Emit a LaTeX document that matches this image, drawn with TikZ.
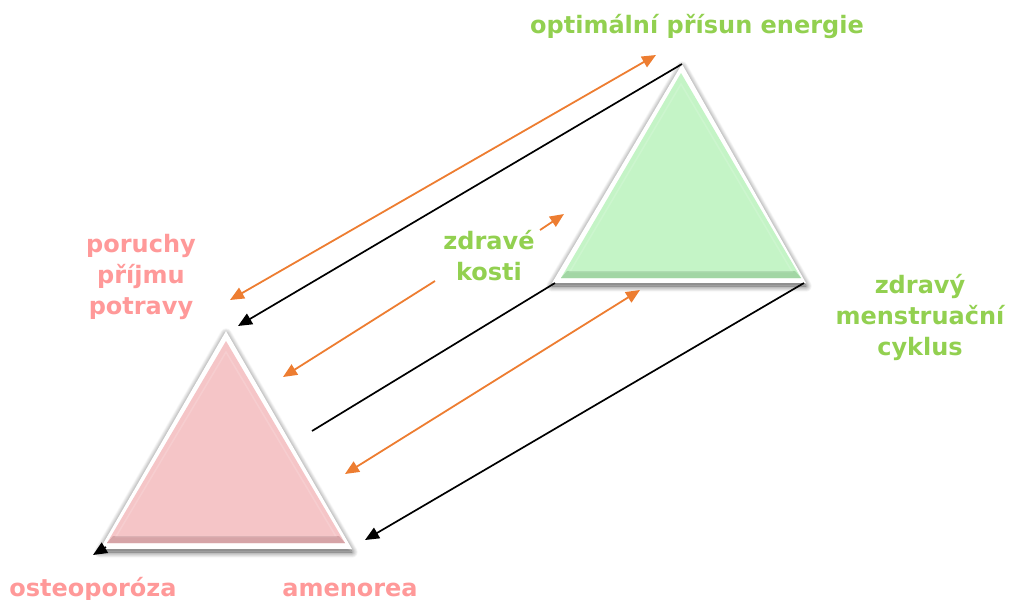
\documentclass[tikz,border=0pt]{standalone}
\usepackage{fontspec}
\setmainfont{DejaVu Sans}
\usetikzlibrary{arrows.meta,shadows.blur}
\definecolor{lgreen}{HTML}{92D050}
\definecolor{lpink}{HTML}{FF9999}
\definecolor{arr}{HTML}{ED7D31}
\definecolor{gfill}{HTML}{C4F4C6}
\definecolor{gdark}{HTML}{A2D6A4}
\definecolor{pfill}{HTML}{F5C5C7}
\definecolor{pdark}{HTML}{D6A4A7}
\begin{document}
\begin{tikzpicture}[x=1pt,y=-1pt,
  lbl/.style={font=\bfseries\fontsize{24}{31}\selectfont,align=center,inner sep=0pt,anchor=base},
  orgline/.style={draw=arr,line width=1.8pt},
  blkline/.style={draw=black,line width=1.7pt},
  tip/.style={-{Triangle[length=14pt,width=12pt]}},
  dtip/.style={{Triangle[length=14pt,width=12pt]}-{Triangle[length=14pt,width=12pt]}},
  outer/.style={fill=white,blur shadow={shadow xshift=0pt,shadow yshift=-3pt,shadow blur radius=6pt,shadow blur steps=12,shadow opacity=70}}
]
\useasboundingbox (0,0) rectangle (1010,600);
% coordinates
\coordinate (gA) at (682,64);
\coordinate (gL) at (555,283);
\coordinate (gR) at (804,283);
\coordinate (pA) at (238,326);
\coordinate (pR) at (365,540);
\coordinate (osTip) at (93,555);
\coordinate (dStub) at (106,547);
\coordinate (dEnd) at (312,431);
\coordinate (o1s) at (230,300);
\coordinate (o1e) at (656,55);
\coordinate (o2a) at (435,281);
\coordinate (o2s) at (283,377);
\coordinate (o2b) at (540,230);
\coordinate (o2e) at (564,214);
\coordinate (o3s) at (345,474);
\coordinate (o3e) at (640,290);
% green triangle
\path[outer] (682,64) -- (552,283) -- (806,283) -- cycle;
\fill[gfill] (681,73) -- (561,278) -- (801,278) -- cycle;
\fill[gdark] (561,278) -- (801,278) -- (795,271) -- (567,271) -- cycle;
\draw[white,opacity=0.15,line width=1.5pt] (681,84) -- (570,271.5) -- (792,271.5) -- cycle;
% pink triangle
\path[outer] (226,331) -- (100,549) -- (352,549) -- cycle;
\fill[pfill] (226,341) -- (107,543) -- (345,543) -- cycle;
\fill[pdark] (107,543) -- (345,543) -- (339,536) -- (113,536) -- cycle;
\draw[white,opacity=0.15,line width=1.5pt] (226,352) -- (116,536.5) -- (336,536.5) -- cycle;
% connectors
\draw[orgline,dtip] (o1s) -- (o1e);
\draw[blkline,tip] (gA) -- (pA);
\draw[orgline,tip] (o2a) -- (o2s);
\draw[orgline,tip] (o2b) -- (o2e);
\draw[blkline] (gL) -- (dEnd);
\draw[blkline,tip] (dStub) -- (osTip);
\draw[orgline,dtip] (o3s) -- (o3e);
\draw[blkline,tip] (gR) -- (pR);
% labels
\node[lbl,text=lgreen] (opt) at (697,33) {optimální přísun energie};
\node[lbl,text=lpink] (por) at (141,314) {poruchy\\příjmu\\potravy};
\node[lbl,text=lgreen] (zk) at (489,280) {zdravé\\kosti};
\node[lbl,text=lgreen] (zmc) at (920,355) {zdravý\\menstruační\\cyklus};
\node[lbl,text=lpink] (ost) at (93,596) {osteoporóza};
\node[lbl,text=lpink] (ame) at (350,596) {amenorea};
\end{tikzpicture}
\end{document}
